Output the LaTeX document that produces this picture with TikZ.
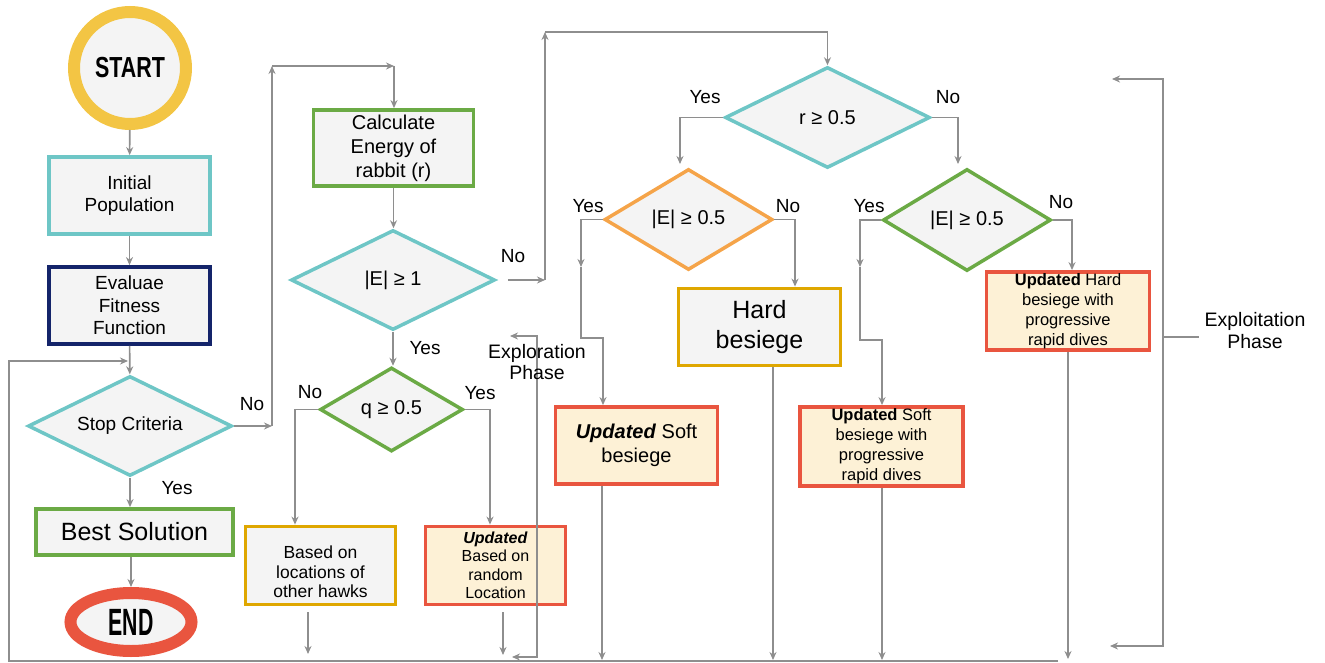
\documentclass[tikz,border=0pt]{standalone}
\usepackage{fontspec}
\setmainfont{Liberation Sans}
\usetikzlibrary{shapes.geometric,arrows.meta}
\definecolor{boxfill}{HTML}{F4F4F4}
\definecolor{creamfill}{HTML}{FDF1D6}
\definecolor{myteal}{HTML}{6EC6C6}
\definecolor{mynavy}{HTML}{14246A}
\definecolor{mygreen}{HTML}{6BAA45}
\definecolor{myred}{HTML}{E9553F}
\definecolor{myorange}{HTML}{F5A449}
\definecolor{mygoldbox}{HTML}{DFA700}
\definecolor{mygold}{HTML}{F3C544}
\definecolor{mygray}{HTML}{8E8E8E}

\begin{document}
\begin{tikzpicture}[x=1pt,y=-1pt,
  box/.style={draw,line width=3.8pt,fill=boxfill,align=center,inner sep=1pt},
  upbox/.style={box,draw=myred,fill=creamfill},
  decision/.style={diamond,aspect=2,draw,line width=3.5pt,fill=boxfill,inner sep=0pt,align=center,font=\fontsize{20}{24}\selectfont},
  conn/.style={draw=mygray,line width=1.6pt,-{Stealth[length=8pt,width=7pt]}},
  yn/.style={font=\fontsize{19}{22}\selectfont}]
  \useasboundingbox (0,0) rectangle (1325,663);

  % left column
  \node[circle,draw=mygold,line width=12pt,fill=boxfill,minimum size=112pt] (start) at (130,68)
    {\fontsize{29}{30}\selectfont\scalebox{0.74}[1]{\bfseries START}};
  \node[box,draw=myteal,minimum width=161pt,minimum height=77pt,font=\fontsize{19}{22}\selectfont] (init) at (129.5,195.5) {Initial\\Population};
  \node[box,draw=mynavy,minimum width=161pt,minimum height=77pt,font=\fontsize{19}{22.5}\selectfont] (evalf) at (129.5,305.5) {Evaluae\\Fitness\\Function};
  \node[decision,draw=myteal,minimum width=204pt,minimum height=100pt,font=\fontsize{19}{22}\selectfont] (stop) at (130,426) {Stop Criteria};
  \node[box,draw=mygreen,minimum width=197pt,minimum height=46pt,font=\fontsize{25}{28}\selectfont] (best) at (134.5,532) {Best Solution};
  \node[ellipse,draw=myred,line width=12pt,fill=boxfill,minimum width=121pt,minimum height=58pt,inner sep=0pt] (finish) at (131,622)
    {\fontsize{38}{38}\selectfont\scalebox{0.56}[1]{\bfseries END}};

  % exploration
  \node[box,draw=mygreen,minimum width=160pt,minimum height=76pt,font=\fontsize{20}{24}\selectfont] (calc) at (393.5,148) {Calculate\\Energy of\\rabbit (r)};
  \node[decision,draw=myteal,minimum width=204pt,minimum height=100pt] (eone) at (393,280) {|E| ≥ 1};
  \node[decision,draw=mygreen,minimum width=143pt,minimum height=84pt] (qdec) at (391.5,409.5) {q ≥ 0.5};
  \node[box,draw=mygoldbox,minimum width=150pt,minimum height=78pt,font=\fontsize{17.5}{19.5}\selectfont] (hawks) at (320.5,565.5)
    {\raisebox{-9pt}[\height][\depth]{\begin{tabular}{@{}c@{}}Based on\\locations of\\other hawks\end{tabular}}};
  \node[upbox,minimum width=140pt,minimum height=78pt,font=\fontsize{16}{18.5}\selectfont] (randloc) at (495.5,565.5) {\textbf{\textit{Updated}}\\Based on\\random\\Location};

  % exploitation
  \node[decision,draw=myteal,minimum width=205pt,minimum height=101pt] (rdec) at (827.5,117.5) {r ≥ 0.5};
  \node[decision,draw=myorange,minimum width=168pt,minimum height=101pt] (ehalfa) at (688.5,219.5) {|E| ≥ 0.5};
  \node[decision,draw=mygreen,minimum width=168pt,minimum height=102pt] (ehalfb) at (967,220) {|E| ≥ 0.5};
  \node[box,draw=mygoldbox,minimum width=162pt,minimum height=77pt,font=\fontsize{25}{30}\selectfont] (hard) at (759.5,327) {Hard\\besiege};
  \node[upbox,minimum width=162pt,minimum height=77pt,font=\fontsize{20}{24.5}\selectfont] (softa) at (636.5,445.5) {\textbf{\textit{Updated}} Soft\\besiege};
  \node[upbox,minimum width=163pt,minimum height=79pt,font=\fontsize{16.5}{20}\selectfont] (softb) at (881.5,446.5) {\textbf{Updated} Soft\\besiege with\\progressive\\rapid dives};
  \node[upbox,minimum width=163pt,minimum height=78pt,font=\fontsize{16.5}{20}\selectfont] (hardb) at (1068,311) {\textbf{Updated} Hard\\besiege with\\progressive\\rapid dives};

  % return line
  \coordinate (lb0) at (1058,661);
  \coordinate (lb1) at (9,661);
  \coordinate (lb2) at (9,361);
  \coordinate (lb3) at (128,361);
  \draw[conn] (lb0) -- (lb1) -- (lb2) -- (lb3);

  \draw[conn] (start) -- (init);
  \draw[conn] (init) -- (evalf);
  \draw[conn] (evalf) -- (stop);
  \draw[conn] (stop.south) -- (stop.south |- best.north);
  \draw[conn] (best.south -| finish) -- (finish);
  \node[yn] (ystop) at (177,488) {Yes};

  \coordinate (sn1) at (272,426);
  \coordinate (sn2) at (272,66);
  \coordinate (sn3) at (394,66);
  \draw[conn] (stop.east) -- (sn1);
  \draw[conn] (sn1) -- (sn2);
  \draw[conn] (sn2) -- (sn3);
  \draw[conn] (sn3) -- (sn3 |- calc.north);
  \node[yn] (nstop) at (252,404) {No};

  \draw[conn] (calc.south) -- (calc.south |- eone.north);
  \coordinate (en1) at (545,280);
  \coordinate (en2) at (545,32);
  \draw[conn,shorten <=11pt] (eone.east) -- (en1);
  \draw[conn] (en1) -- (en2);
  \draw[conn] (en2) -| (rdec.north);
  \node[yn] (neone) at (513,256) {No};
  \draw[conn] (eone.south) -- (eone.south |- qdec.north);
  \node[yn] (yeone) at (425,348) {Yes};

  \coordinate (qn) at (295,409.5);
  \coordinate (qy) at (490,409.5);
  \draw[conn] (qdec.west) -- (qn) -- (qn |- hawks.north);
  \draw[conn] (qdec.east) -- (qy) -- (qy |- randloc.north);
  \node[yn] (nq) at (310,392) {No};
  \node[yn] (yq) at (480,393) {Yes};

  \coordinate (d1) at (308,654);
  \coordinate (d2) at (503,655);
  \draw[conn,shorten <=6pt] (hawks.south -| d1) -- (d1);
  \draw[conn,shorten <=6pt] (randloc.south -| d2) -- (d2);

  \coordinate (xp0) at (510,336);
  \coordinate (xp1) at (537,336);
  \coordinate (xp2) at (537,657);
  \coordinate (xp3) at (512,657);
  \draw[conn,{Stealth[length=8pt,width=7pt]}-{Stealth[length=8pt,width=7pt]}] (xp0) -- (xp1) -- (xp2) -- (xp3);

  % r branches
  \coordinate (ry) at (680,164);
  \coordinate (rn) at (958,164);
  \draw[conn] (rdec.west) -| (ry);
  \draw[conn] (rdec.east) -| (rn);
  \node[yn] (yr) at (705,97) {Yes};
  \node[yn] (nr) at (948,97) {No};

  \coordinate (ay1) at (581,267);
  \coordinate (ay2) at (581,338);
  \coordinate (ay3) at (603,338);
  \coordinate (an) at (795,219.5);
  \draw[conn] (ehalfa.west) -| (ay1);
  \draw[conn] (ay1) -- (ay2) -- (ay3) -- (ay3 |- softa.north);
  \draw[conn] (ehalfa.east) -- (an) -- (an |- hard.north);
  \node[yn] (ya) at (588,206) {Yes};
  \node[yn] (na) at (788,206) {No};

  \coordinate (by1) at (860,267);
  \coordinate (by2) at (860,340);
  \coordinate (by3) at (882,340);
  \coordinate (bn) at (1072,220);
  \draw[conn] (ehalfb.west) -| (by1);
  \draw[conn] (by1) -- (by2) -- (by3) -- (by3 |- softb.north);
  \draw[conn] (ehalfb.east) -- (bn) -- (bn |- hardb.north);
  \node[yn] (yb) at (869,206) {Yes};
  \node[yn] (nb) at (1061,202) {No};

  \coordinate (d3) at (602,660);
  \coordinate (d4) at (773,660);
  \coordinate (d5) at (882,660);
  \coordinate (d6) at (1068,659);
  \draw[conn] (softa.south -| d3) -- (d3);
  \draw[conn] (hard.south -| d4) -- (d4);
  \draw[conn] (softb.south -| d5) -- (d5);
  \draw[conn] (hardb.south -| d6) -- (d6);

  \coordinate (xt0) at (1112,79);
  \coordinate (xt1) at (1163,79);
  \coordinate (xt2) at (1163,646);
  \coordinate (xt3) at (1110,646);
  \coordinate (xm0) at (1163,337);
  \coordinate (xm1) at (1199,337);
  \draw[conn,{Stealth[length=8pt,width=7pt]}-{Stealth[length=8pt,width=7pt]}] (xt0) -- (xt1) -- (xt2) -- (xt3);
  \draw[draw=mygray,line width=1.6pt] (xm0) -- (xm1);

  \node[align=center,font=\fontsize{19.5}{21}\selectfont] (explor) at (537,362) {Exploration\\Phase};
  \node[align=center,font=\fontsize{19.5}{22}\selectfont] (exploit) at (1255,331) {Exploitation\\Phase};
\end{tikzpicture}
\end{document}
